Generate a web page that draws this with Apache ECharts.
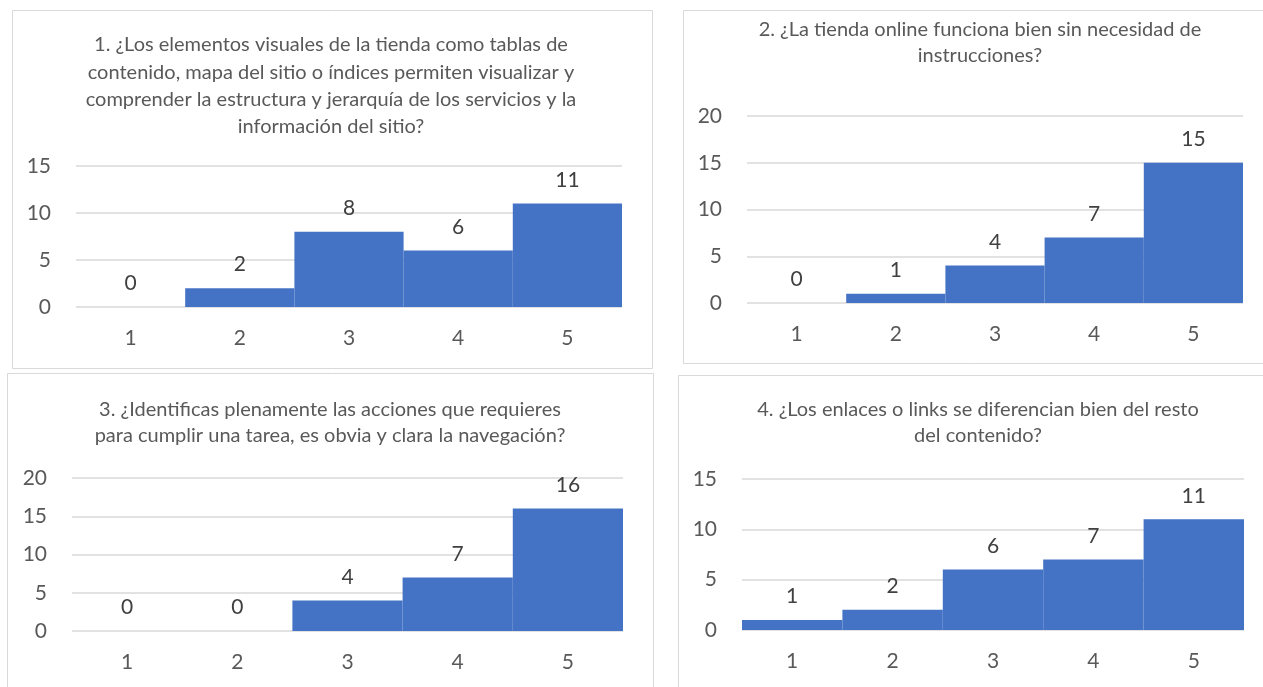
<!DOCTYPE html>
<html>
<head>
<meta charset="utf-8">
<style>
  html, body { margin: 0; padding: 0; background: #ffffff; }
  #chart { width: 1263px; height: 687px; }
</style>
<script src="https://cdn.jsdelivr.net/npm/echarts@6/dist/echarts.min.js"></script>
</head>
<body>
<div id="chart"></div>
<script>
// Survey answers on a 1–5 scale, one chart per question
const categories = ['1', '2', '3', '4', '5'];

const q1Values = [0, 2, 8, 6, 11];
const q2Values = [0, 1, 4, 7, 15];
const q3Values = [0, 0, 4, 7, 16];
const q4Values = [1, 2, 6, 7, 11];

const titles = [
  '1. ¿Los elementos visuales de la tienda como tablas de\ncontenido, mapa del sitio o índices permiten visualizar y\ncomprender la estructura y jerarquía de los servicios y la\ninformación del sitio?',
  '2. ¿La tienda online funciona bien sin necesidad de\ninstrucciones?',
  '3. ¿Identificas plenamente las acciones que requieres\npara cumplir una tarea, es obvia y clara la navegación?',
  '4. ¿Los enlaces o links se diferencian bien del resto\ndel contenido?'
];

const yMax = [15, 20, 20, 15];
const seriesValues = [q1Values, q2Values, q3Values, q4Values];

// Layout of each panel: frame, plot area and title anchor (center x, first line center y, line height)
const panels = [
  { frame: [12, 10, 640, 358], grid: { left: 76, top: 166, width: 546, height: 141 }, title: [331, 45, 27.3] },
  { frame: [683, 10, 590, 353], grid: { left: 747, top: 116, width: 496, height: 187 }, title: [980, 30, 25.5] },
  { frame: [7, 373, 646, 330], grid: { left: 72, top: 478, width: 551, height: 153 }, title: [330, 410, 26] },
  { frame: [678, 375, 600, 330], grid: { left: 742, top: 479, width: 502, height: 151 }, title: [978, 410, 26] }
];

const FONT = 'Lato, "Open Sans", sans-serif';
const TEXT = '#595959';
const BAR = '#4472C4';
const GRID = '#D9D9D9';

const grids = [], xAxes = [], yAxes = [], series = [], graphics = [];

panels.forEach((p, i) => {
  graphics.push({
    type: 'rect',
    shape: { x: p.frame[0] + 0.5, y: p.frame[1] + 0.5, width: p.frame[2], height: p.frame[3] },
    style: { fill: '#ffffff', stroke: GRID, lineWidth: 1 },
    z: -10
  });
  graphics.push({
    type: 'text',
    x: p.title[0],
    y: p.title[1] - p.title[2] / 2,
    style: {
      text: titles[i],
      fill: TEXT,
      font: '20px ' + FONT,
      textAlign: 'center',
      textVerticalAlign: 'top',
      lineHeight: p.title[2]
    },
    z: 10
  });
  grids.push(Object.assign({ containLabel: false }, p.grid));
  xAxes.push({
    type: 'category',
    gridIndex: i,
    data: categories,
    axisLine: { show: false },
    axisTick: { show: false },
    axisLabel: { color: TEXT, fontSize: 21, fontFamily: FONT, margin: 21 }
  });
  yAxes.push({
    type: 'value',
    gridIndex: i,
    min: 0,
    max: yMax[i],
    interval: 5,
    axisLine: { show: false },
    axisTick: { show: false },
    axisLabel: { color: TEXT, fontSize: 21, fontFamily: FONT, margin: 25 },
    splitLine: { lineStyle: { color: GRID, width: 1.5 } }
  });
  series.push({
    type: 'bar',
    xAxisIndex: i,
    yAxisIndex: i,
    data: seriesValues[i],
    barCategoryGap: '0%',
    itemStyle: { color: BAR },
    label: {
      show: true,
      position: 'top',
      distance: 13,
      color: '#404040',
      fontSize: 21,
      fontFamily: FONT
    }
  });
});

const chart = echarts.init(document.getElementById('chart'), null, { renderer: 'canvas' });
chart.setOption({
  animation: false,
  backgroundColor: '#ffffff',
  grid: grids,
  xAxis: xAxes,
  yAxis: yAxes,
  series: series,
  graphic: graphics
});
</script>
</body>
</html>
